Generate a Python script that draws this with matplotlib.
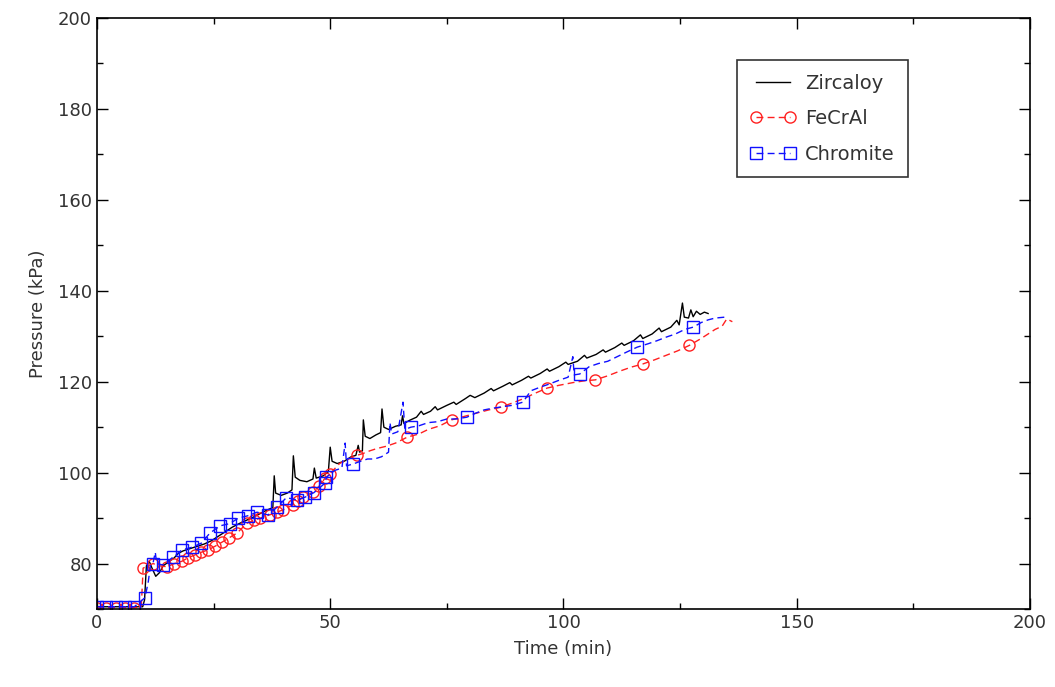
import numpy as np
import matplotlib
matplotlib.use("Agg")
import matplotlib.pyplot as plt
from matplotlib.ticker import MultipleLocator

# Zircaloy (black solid line)
zirc_t = [0, 5, 9.8, 10.2, 10.6, 11.2, 11.8, 12.6, 13.4, 14.2, 15.5, 16.5, 17.5, 18.5,
          20, 21.5, 23, 24.5, 26, 27.5, 29, 30.5, 32, 33.5, 35, 36.5, 37.7, 38, 38.3,
          39.5, 40.8, 41.8, 42.1, 42.5, 43.5, 45, 46.3, 46.6, 47, 48.5, 49.6, 50, 50.4,
          51.5, 53, 54.5, 55.5, 56, 56.3, 56.9, 57.1, 57.5, 58.5, 59.8, 60.8, 61.1,
          61.5, 62.5, 64, 65.2, 65.5, 65.8, 67, 68.5, 69.5, 70, 71.5, 72.5, 73, 75,
          76.5, 77, 79, 80, 81, 83, 84.5, 85, 87, 88.5, 89, 91, 92.5, 93, 95, 96.5,
          97, 99, 100.5, 101, 103, 104.5, 105, 107, 108.5, 109, 111, 112.5, 113, 115,
          116.5, 117, 119, 120.5, 121, 123, 124.3, 124.8, 125.5, 125.9, 126.8, 127.3,
          127.8, 128.5, 129.3, 130.2, 131]
zirc_p = [70.5, 70.5, 70.5, 72, 79.5, 80.5, 79, 77.2, 78, 79.5, 80.5, 81.2, 82.3, 82.8,
          83.3, 83.8, 84.3, 85, 86, 87, 88, 88.8, 89.5, 90.2, 91, 91.8, 92.3, 99.3, 95.5,
          95, 95.5, 96.2, 103.7, 99, 98.3, 98, 98.6, 101, 98.8, 99.3, 100.2, 105.6, 102.5,
          102, 102.5, 103.5, 103.8, 106, 104.5, 104.8, 111.6, 108, 107.5, 108.3, 108.8, 114,
          110, 109.5, 110.2, 110.5, 112.5, 110.8, 111.5, 112.2, 113.5, 112.8, 113.5, 114.5,
          113.8, 114.8, 115.5, 115, 116.3, 117, 116.5, 117.5, 118.5, 118, 119, 119.8,
          119.3, 120.3, 121.2, 120.8, 121.8, 122.8, 122.3, 123.3, 124.3, 123.8, 124.5,
          125.8, 125.2, 126, 127, 126.5, 127.5, 128.5, 128, 129, 130.3, 129.5, 130.5,
          131.8, 131, 132, 133.5, 132.5, 137.3, 134.2, 134, 135.8, 134.3, 135.5, 134.8,
          135.3, 135]

# FeCrAl (red dashed, circle markers)
fecral_t = [0, 2, 4, 6, 8, 9.5, 9.9, 12, 13.5, 15, 16.6, 18.2, 19.6, 21, 22.4, 23.8,
            25.3, 26.8, 28.4, 30, 32.2, 33.6, 35, 37, 38.5, 39.9, 42, 43.2, 44.2, 46.3,
            47.6, 48.9, 50, 52, 53.5, 55.7, 57, 58.5, 60, 62, 64, 66.5, 69, 71, 73.5,
            76, 78.5, 81, 84, 86.6, 89, 91.5, 94, 96.5, 99, 102, 104.5, 106.8, 109.5,
            112, 114.5, 117, 119.5, 122, 124.5, 127, 129.5, 131, 132.5, 134, 135, 136.2]
fecral_p = [70.3, 70.3, 70.3, 70.3, 70.3, 70.5, 79, 80, 79.5, 79.3, 80, 80.5, 81.3, 81.9,
            82.5, 83, 83.8, 84.7, 85.7, 86.7, 88.9, 89.5, 90, 90.7, 91.3, 91.8, 92.9,
            93.8, 94.6, 95.7, 97, 98.8, 99.8, 102, 102.8, 103.8, 104.2, 104.8, 105.3,
            105.8, 106.5, 107.8, 108.5, 109.5, 110.3, 111.6, 112.3, 113, 113.8, 114.4,
            115.3, 116.3, 117.5, 118.6, 119.2, 119.8, 120.2, 120.4, 121.3, 122.3, 123.2,
            123.9, 124.8, 125.8, 126.8, 128, 129.5, 130.5, 131.5, 132.2, 133.8, 133.2]
fecral_marks = [0, 1, 2, 3, 4, 6, 7, 9, 10, 11, 12, 13, 14, 15, 16, 17, 18, 19, 20, 21,
                22, 23, 24, 25, 26, 27, 28, 29, 30, 31, 32, 35, 41, 45, 49, 53, 57, 61, 65]

# Chromite (blue dashed, square markers)
chrom_t = [0, 2, 4, 6, 8, 10.3, 11, 11.5, 12, 12.5, 12.8, 14.1, 16.3, 18.2, 20.4, 22.4,
           24.2, 26.4, 28.5, 30.3, 32.3, 34.3, 36.7, 38.7, 40.6, 42.9, 44.6, 46.5, 48.9,
           49.2, 51, 52.5, 53.2, 53.5, 54.9, 56.5, 58, 59.5, 61, 62.5, 62.8, 63.2, 64.5,
           65.6, 66, 67.3, 69, 71, 73, 75, 77, 79.3, 81, 83, 85, 87, 89, 91.3, 93, 95,
           97, 99, 101, 102, 102.3, 103.5, 105.5, 107.5, 109.5, 111.5, 113.5, 115.8, 118,
           120, 122, 124, 126, 127.8, 129.5, 131, 132.5, 134.6]
chrom_p = [70.5, 70.5, 70.5, 70.5, 70.5, 72.5, 76, 79.8, 80, 82.5, 80, 79.7, 81.4, 83,
           83.6, 84.5, 86.7, 88.3, 88.8, 90, 90.5, 91.3, 90.7, 92.5, 94.5, 94, 94.6, 95.6,
           97.7, 99, 100.5, 101, 106.5, 101.5, 101.9, 102.5, 103, 103, 103.5, 104.5, 111,
           108.5, 109, 115.5, 109.5, 110, 110.3, 111, 111.2, 111.8, 111.8, 112.2, 113,
           113.8, 114.2, 114.5, 114.8, 115.5, 118, 118.8, 119.5, 120.3, 121, 125.5, 121.5,
           121.7, 123.3, 124, 124.5, 125.5, 126.5, 127.6, 128.3, 129, 129.8, 130.5, 131.5,
           132, 133, 133.6, 134, 134.2]
chrom_marks = [0, 1, 2, 3, 4, 5, 8, 11, 12, 13, 14, 15, 16, 17, 18, 19, 20, 21, 22, 23,
               24, 25, 26, 27, 28, 29, 34, 45, 51, 57, 65, 71, 77]

fig = plt.figure(figsize=(10.55, 6.87), dpi=100)
ax = fig.add_axes([0.0919, 0.1135, 0.8844, 0.8603])

ax.plot(zirc_t, zirc_p, color='black', lw=1.0, label='Zircaloy')
ax.plot(fecral_t, fecral_p, color='#ff2020', lw=1.0, ls=(0, (5, 3)),
        marker='o', markersize=8, markerfacecolor='none', markeredgewidth=1.0,
        markevery=fecral_marks, label='FeCrAl')
ax.plot(chrom_t, chrom_p, color='#1010ff', lw=1.0, ls=(0, (5, 3)),
        marker='s', markersize=8, markerfacecolor='none', markeredgewidth=1.0,
        markevery=chrom_marks, label='Chromite')

ax.set_xlim(0, 200)
ax.set_ylim(70, 200)
ax.xaxis.set_major_locator(MultipleLocator(50))
ax.xaxis.set_minor_locator(MultipleLocator(25))
ax.yaxis.set_major_locator(MultipleLocator(20))
ax.yaxis.set_minor_locator(MultipleLocator(10))
ax.set_yticks([80, 100, 120, 140, 160, 180, 200])
ax.tick_params(which='both', direction='in', top=True, right=True,
               labelsize=13, labelcolor='#333333')
ax.tick_params(which='major', length=8, width=1)
ax.tick_params(which='minor', length=4, width=1)
for s in ax.spines.values():
    s.set_linewidth(1.2)

ax.set_xlabel('Time (min)', fontsize=13, color='#333333', labelpad=6)
ax.set_ylabel('Pressure (kPa)', fontsize=13, color='#333333', labelpad=8)

leg = ax.legend(loc='upper left', bbox_to_anchor=(0.686, 0.929), borderaxespad=0,
                numpoints=2, fontsize=14, frameon=True, fancybox=False,
                edgecolor='black', handlelength=2.3, borderpad=0.7,
                labelspacing=0.85, handletextpad=0.5)
leg.get_frame().set_linewidth(1.2)
for t in leg.get_texts():
    t.set_color('#333333')

fig.savefig('out.png', dpi=100)
